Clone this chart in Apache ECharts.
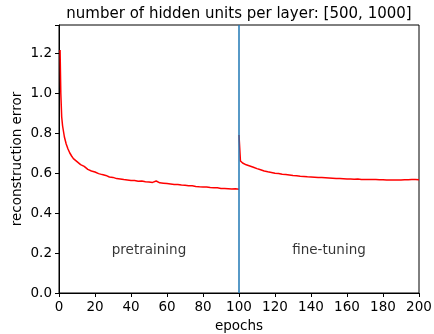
<!DOCTYPE html>
<html><head><meta charset="utf-8">
<script src="https://cdn.jsdelivr.net/npm/echarts@6/dist/echarts.min.js"></script>
<style>html,body{margin:0;padding:0;background:#fff}#c{width:434px;height:334px}</style>
</head><body><div id="c"></div>
<script>
const titleText = 'number of hidden units per layer: [500, 1000]';
const xTicks = [0, 20, 40, 60, 80, 100, 120, 140, 160, 180, 200];
const yTicks = [0.0, 0.2, 0.4, 0.6, 0.8, 1.0, 1.2];
const pretrainEpochs = [0.6, 1, 1.5, 2, 3, 4, 5, 6, 7, 8, 9, 10, 11, 12, 13, 14, 15, 16, 17, 18, 19, 20,
  21, 22, 23, 24, 25, 26, 27, 28, 29, 30, 31, 32, 33, 34, 35, 36, 37, 38, 39, 40,
  41, 42, 43, 44, 45, 46, 47, 48, 49, 50, 51, 52, 53, 54, 55, 56, 57, 58, 59, 60,
  61, 62, 63, 64, 65, 66, 67, 68, 69, 70, 71, 72, 73, 74, 75, 76, 77, 78, 79, 80,
  81, 82, 83, 84, 85, 86, 87, 88, 89, 90, 91, 92, 93, 94, 95, 96, 97, 98, 99, 100];
const pretrainError = [1.215, 1.0, 0.88, 0.835, 0.78, 0.745, 0.72, 0.70, 0.685, 0.672, 0.662, 0.657, 0.65, 0.642, 0.636, 0.633, 0.625, 0.618, 0.613, 0.61, 0.607, 0.605,
  0.60, 0.597, 0.596, 0.592, 0.59, 0.588, 0.586, 0.58, 0.579, 0.578, 0.575, 0.572, 0.574, 0.57, 0.568, 0.567, 0.566, 0.565, 0.562, 0.563,
  0.561, 0.562, 0.56, 0.559, 0.558, 0.56, 0.557, 0.556, 0.555, 0.555, 0.553, 0.553, 0.556, 0.56, 0.552, 0.551, 0.55, 0.549, 0.55, 0.547,
  0.546, 0.545, 0.546, 0.543, 0.542, 0.543, 0.54, 0.54, 0.538, 0.539, 0.537, 0.536, 0.535, 0.536, 0.534, 0.533, 0.534, 0.531, 0.532, 0.53,
  0.529, 0.53, 0.528, 0.527, 0.528, 0.526, 0.525, 0.526, 0.524, 0.523, 0.524, 0.522, 0.523, 0.521, 0.521, 0.52, 0.52, 0.521, 0.52, 0.519];
const finetuneEpochs = [100, 100.8, 102, 103, 104, 105, 106, 107, 108, 109, 110,
  111, 112, 113, 114, 115, 116, 117, 118, 119, 120, 121, 122, 123, 124, 125, 126, 127, 128, 129, 130,
  131, 132, 133, 134, 135, 136, 137, 138, 139, 140, 141, 142, 143, 144, 145, 146, 147, 148, 149, 150,
  151, 152, 153, 154, 155, 156, 157, 158, 159, 160, 161, 162, 163, 164, 165, 166, 167, 168, 169, 170,
  171, 172, 173, 174, 175, 176, 177, 178, 179, 180, 181, 182, 183, 184, 185, 186, 187, 188, 189, 190,
  191, 192, 193, 194, 195, 196, 197, 198, 199, 200];
const finetuneError = [0.79, 0.66, 0.65, 0.645, 0.641, 0.638, 0.635, 0.632, 0.629, 0.625, 0.622,
  0.618, 0.616, 0.613, 0.61, 0.608, 0.606, 0.604, 0.603, 0.601, 0.599, 0.598, 0.597, 0.595, 0.594, 0.593, 0.592, 0.591, 0.59, 0.589, 0.587,
  0.587, 0.586, 0.585, 0.584, 0.584, 0.583, 0.582, 0.581, 0.58, 0.58, 0.58, 0.579, 0.578, 0.578, 0.577, 0.577, 0.576, 0.576, 0.575, 0.575,
  0.574, 0.574, 0.573, 0.573, 0.572, 0.572, 0.572, 0.571, 0.571, 0.57, 0.571, 0.57, 0.57, 0.569, 0.569, 0.57, 0.569, 0.568, 0.568, 0.568,
  0.568, 0.567, 0.567, 0.568, 0.567, 0.567, 0.566, 0.566, 0.567, 0.566, 0.566, 0.565, 0.566, 0.565, 0.565, 0.565, 0.564, 0.565, 0.565, 0.565,
  0.565, 0.566, 0.566, 0.566, 0.567, 0.567, 0.567, 0.567, 0.566, 0.566];
const phaseBoundary = 100;
const phaseLabels = [{text: 'pretraining', x: 50, y: 0.2}, {text: 'fine-tuning', x: 150, y: 0.2}];

const font = 'DejaVu Sans';
const chart = echarts.init(document.getElementById('c'), null, {renderer: 'canvas'});
const pre = pretrainEpochs.map((e, i) => [e, pretrainError[i]]);
const fine = finetuneEpochs.map((e, i) => [e, finetuneError[i]]);
chart.setOption({
  animation: false,
  title: {text: titleText, left: 239, top: 7, padding: 0, textAlign: 'center',
    textStyle: {fontFamily: font, fontSize: 15, fontWeight: 'normal', color: '#000'}},
  grid: {left: 59, right: 15, top: 25, bottom: 41, show: true, borderColor: '#000', borderWidth: 1,
    backgroundColor: 'transparent', containLabel: false, outerBoundsMode: 'none'},
  xAxis: {type: 'value', min: 0, max: 200, interval: 20,
    name: 'epochs', nameLocation: 'middle', nameGap: 26, nameMoveOverlap: false,
    nameTextStyle: {fontFamily: font, fontSize: 13.5, color: '#000'},
    axisLine: {show: true, lineStyle: {color: '#000', width: 1}},
    axisTick: {show: true, length: 4, lineStyle: {color: '#000'}},
    axisLabel: {fontFamily: font, fontSize: 13.5, color: '#000', margin: 7},
    splitLine: {show: false}},
  yAxis: {type: 'value', min: 0, max: 1.34, interval: 0.2,
    name: 'reconstruction error', nameLocation: 'middle', nameGap: 35, nameMoveOverlap: false,
    nameTextStyle: {fontFamily: font, fontSize: 13.5, color: '#000'},
    axisLine: {show: true, lineStyle: {color: '#000', width: 1}},
    axisTick: {show: true, length: 4, lineStyle: {color: '#000'}},
    axisLabel: {fontFamily: font, fontSize: 13.5, color: '#000', margin: 7,
      formatter: v => yTicks.some(t => Math.abs(t - v) < 1e-6) ? v.toFixed(1) : ''},
    splitLine: {show: false}},
  series: [
    {type: 'line', data: pre, showSymbol: false, lineStyle: {color: '#ff0000', width: 1.5}, z: 3,
      markLine: {silent: true, symbol: 'none', label: {show: false},
        lineStyle: {color: '#1f77b4', width: 1.5, type: 'solid'},
        data: [{xAxis: phaseBoundary}]}},
    {type: 'line', data: fine, showSymbol: false, lineStyle: {color: '#ff0000', width: 1.5}, z: 3},
    {type: 'scatter', symbolSize: 0, data: phaseLabels.map(p => [p.x, p.y, p.text]),
      label: {show: true, position: 'top', distance: -4, formatter: p => p.data[2],
        fontFamily: font, fontSize: 13.5, color: '#000', textBorderWidth: 0}}
  ]
});
</script></body></html>
